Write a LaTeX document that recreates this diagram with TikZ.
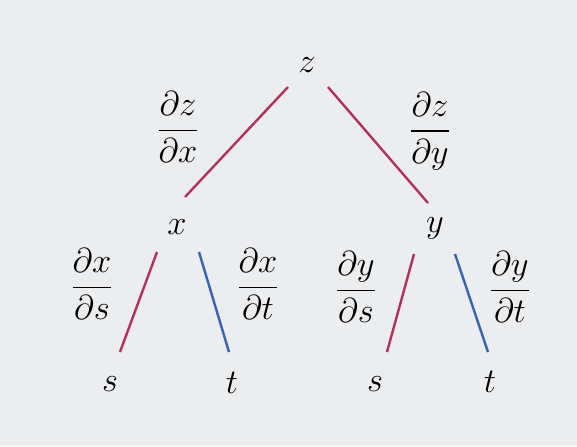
\documentclass[tikz,border=0pt]{standalone}
\usepackage{amsmath}
\usepackage{tikz}
\usetikzlibrary{arrows}
\definecolor{bgpaper}{RGB}{236,237,239}
\definecolor{redbranch}{RGB}{176,50,92}
\definecolor{bluebranch}{RGB}{58,98,178}
\tikzset{
  var/.style={font=\fontsize{17.5}{21}\selectfont, inner sep=0pt},
  rate/.style={font=\fontsize{17.5}{21}\selectfont, inner sep=0pt},
  redline/.style={draw=redbranch, line width=1.2pt},
  blueline/.style={draw=bluebranch, line width=1.2pt}
}
\begin{document}
\begin{tikzpicture}[x=0.5pt,y=-0.5pt]
\fill[bgpaper] (0,0) rectangle (577,446);
\useasboundingbox (0,0) rectangle (577,446);
% variables
\node[var] (z) at (307,65) {$z$};
\node[var] (x) at (177,227) {$x$};
\node[var] (y) at (435,228) {$y$};
\node[var] (xs) at (110,384) {$s$};
\node[var] (xt) at (232,383) {$t$};
\node[var] (ys) at (375,384) {$s$};
\node[var] (yt) at (490,382) {$t$};
% branches
\draw[redline] ([shift={(-19,22)}]z.center) -- ([shift={(8,-30)}]x.center);
\draw[redline] ([shift={(21,22)}]z.center) -- ([shift={(-7,-25)}]y.center);
\draw[redline] ([shift={(-20,25)}]x.center) -- ([shift={(10,-32)}]xs.center);
\draw[blueline] ([shift={(22,25)}]x.center) -- ([shift={(-3,-31)}]xt.center);
\draw[redline] ([shift={(-21,26)}]y.center) -- ([shift={(12,-32)}]ys.center);
\draw[blueline] ([shift={(20,26)}]y.center) -- ([shift={(-2,-30)}]yt.center);
% derivatives
\node[rate] (dzdx) at (178,127) {$\dfrac{\partial z}{\partial x}$};
\node[rate] (dzdy) at (430,131) {$\dfrac{\partial z}{\partial y}$};
\node[rate] (dxds) at (92,284) {$\dfrac{\partial x}{\partial s}$};
\node[rate] (dxdt) at (258,284) {$\dfrac{\partial x}{\partial t}$};
\node[rate] (dyds) at (356,287) {$\dfrac{\partial y}{\partial s}$};
\node[rate] (dydt) at (510,287) {$\dfrac{\partial y}{\partial t}$};
\end{tikzpicture}
\end{document}
